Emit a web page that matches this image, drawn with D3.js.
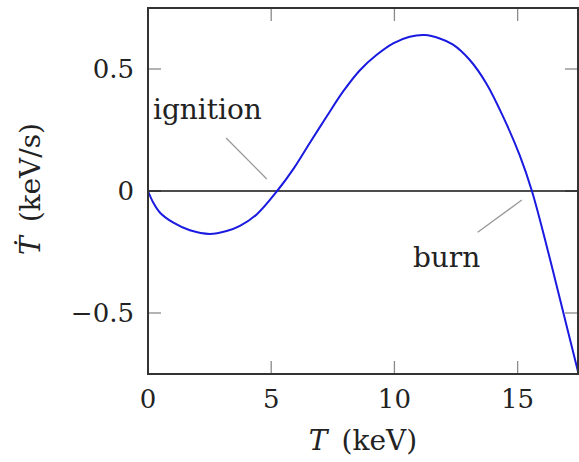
<!DOCTYPE html>
<html>
<head>
<meta charset="utf-8">
<script src="https://cdn.jsdelivr.net/npm/d3@7"></script>
<style>
  body { margin: 0; background: #fff; }
</style>
</head>
<body>
<div id="chart"></div>
<script>
// curve: temperature (keV) and dT/dt (keV/s)
var temps = [0, 0.215, 0.49, 1.03, 1.70, 2.51, 3.19, 3.73, 4.41, 5.24, 5.93, 6.57, 7.25, 7.92, 8.60, 9.27, 9.95, 10.62, 11.23, 11.84, 12.38, 13.06, 13.73, 14.41, 15.09, 15.58, 16.17, 16.71, 17.45]
var rates = [0, -0.048, -0.089, -0.130, -0.161, -0.176, -0.164, -0.143, -0.096, 0, 0.095, 0.198, 0.305, 0.408, 0.495, 0.557, 0.605, 0.632, 0.639, 0.625, 0.600, 0.537, 0.441, 0.305, 0.145, 0, -0.222, -0.44, -0.74]

var xTicks = [0, 5, 10, 15]
var yTicks = [-0.5, 0, 0.5]

// annotations: label, text anchor point, leader line ends (data units)
var notes = [
    {label: "ignition", at: [0.2, 0.295], from: [3.17, 0.217], to: [4.82, 0.049]},
    {label: "burn", at: [10.75, -0.311], from: [13.38, -0.169], to: [15.17, -0.037]}
]

var width = 579, height = 462
var margin = {left: 148, right: 1, top: 8, bottom: 88}
var font = "DejaVu Serif"

var x = d3.scaleLinear().domain([0, 17.45]).range([margin.left, width - margin.right])
var y = d3.scaleLinear().domain([-0.75, 0.75]).range([height - margin.bottom, margin.top])

var svg = d3.select("#chart")
    .append("svg")
    .attr("width", width)
    .attr("height", height)
    .style("font-family", font)

var tickLen = 13
var tickCol = "#8a8a8a"

// ticks on all four sides, pointing in
var ticks = svg.append("g").attr("stroke", tickCol).attr("stroke-width", 1.3)
xTicks.forEach((t) => {
    ticks.append("line").attr("x1", x(t)).attr("x2", x(t)).attr("y1", y.range()[0]).attr("y2", y.range()[0] - tickLen)
    ticks.append("line").attr("x1", x(t)).attr("x2", x(t)).attr("y1", y.range()[1]).attr("y2", y.range()[1] + tickLen)
})
yTicks.forEach((t) => {
    ticks.append("line").attr("x1", x.range()[0]).attr("x2", x.range()[0] + tickLen).attr("y1", y(t)).attr("y2", y(t))
    ticks.append("line").attr("x1", x.range()[1]).attr("x2", x.range()[1] - tickLen).attr("y1", y(t)).attr("y2", y(t))
})

// zero line
svg.append("line")
    .attr("x1", x.range()[0]).attr("x2", x.range()[1])
    .attr("y1", y(0)).attr("y2", y(0))
    .attr("stroke", "#111").attr("stroke-width", 1.5)

// leader lines + labels
notes.forEach((n) => {
    svg.append("line")
        .attr("x1", x(n.from[0])).attr("y1", y(n.from[1]))
        .attr("x2", x(n.to[0])).attr("y2", y(n.to[1]))
        .attr("stroke", "#9a9a9a").attr("stroke-width", 1.3)
    svg.append("text")
        .attr("x", x(n.at[0])).attr("y", y(n.at[1]))
        .attr("font-size", 28)
        .attr("fill", "#222")
        .text(n.label)
})

// curve
var line = d3.line()
    .x((d, i) => x(temps[i]))
    .y((d, i) => y(rates[i]))
    .curve(d3.curveCatmullRom.alpha(0.5))

svg.append("path")
    .datum(temps)
    .attr("d", line)
    .attr("fill", "none")
    .attr("stroke", "#1a1ae0")
    .attr("stroke-width", 2)

// frame
svg.append("rect")
    .attr("x", x.range()[0]).attr("y", y.range()[1])
    .attr("width", x.range()[1] - x.range()[0])
    .attr("height", y.range()[0] - y.range()[1])
    .attr("fill", "none")
    .attr("stroke", "#333").attr("stroke-width", 2)

// tick labels
svg.append("g").selectAll("text")
    .data(xTicks).enter().append("text")
    .attr("x", (d) => x(d)).attr("y", 408)
    .attr("text-anchor", "middle")
    .attr("font-size", 26)
    .attr("fill", "#222")
    .text((d) => d)

svg.append("g").selectAll("text")
    .data(yTicks).enter().append("text")
    .attr("x", 134).attr("y", (d) => y(d) + 9)
    .attr("text-anchor", "end")
    .attr("font-size", 26)
    .attr("fill", "#222")
    .text((d) => d === 0 ? "0" : (d < 0 ? "\u22120.5" : "0.5"))

// axis titles
var xt = svg.append("text")
    .attr("x", 363).attr("y", 450)
    .attr("text-anchor", "middle")
    .attr("font-size", 28)
    .attr("fill", "#222")
xt.append("tspan").attr("font-style", "italic").text("T")
xt.append("tspan").text("\u2002(keV)")

var yt = svg.append("text")
    .attr("transform", "translate(40,189) rotate(-90)")
    .attr("text-anchor", "middle")
    .attr("font-size", 28)
    .attr("fill", "#222")
yt.append("tspan").attr("font-style", "italic").text("\u1E6A")
yt.append("tspan").text("\u2002(keV/s)")
</script>
</body>
</html>
